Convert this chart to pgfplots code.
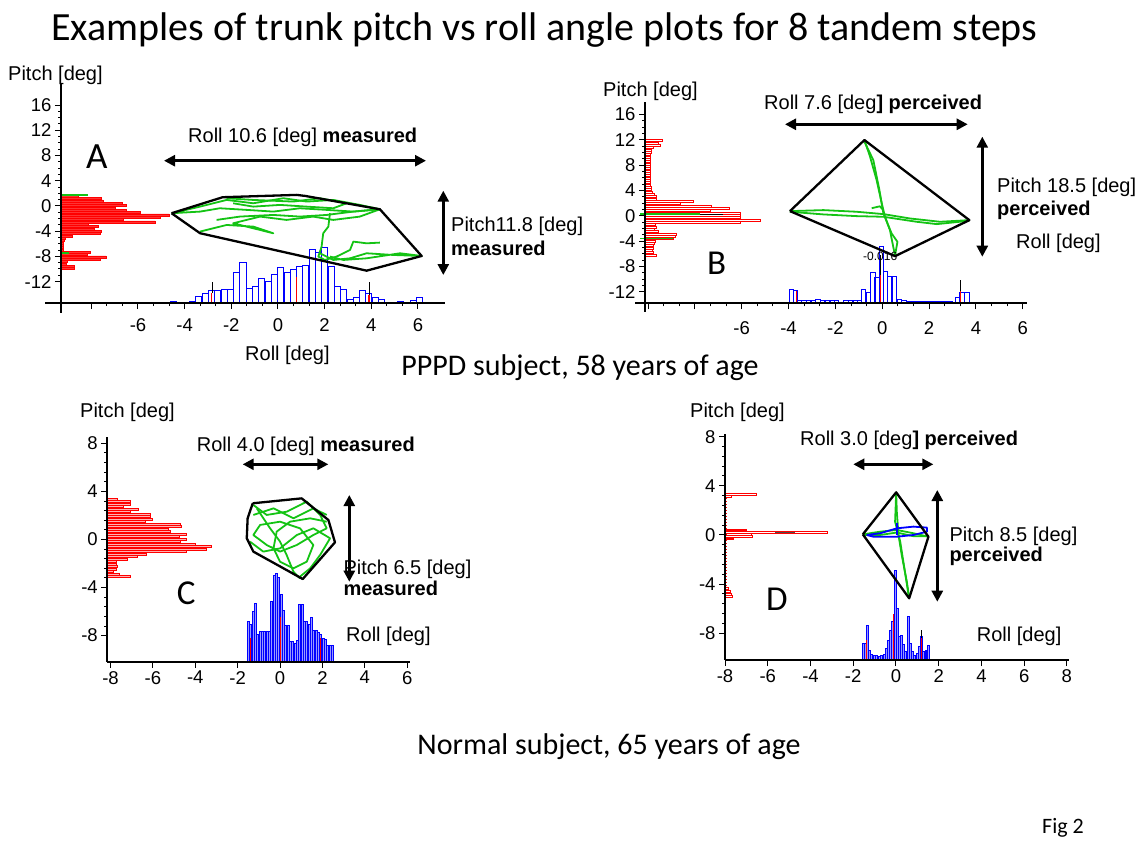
\documentclass[border=0pt]{standalone}
\usepackage{pgfplots}
\pgfplotsset{compat=1.18}
\usepackage{fontspec}
\setmainfont{Liberation Sans}
\newfontfamily\calfont{Carlito}
\usetikzlibrary{arrows.meta}
\definecolor{trgreen}{RGB}{20,195,20}
\newcommand\lab{\fontsize{20}{23}\selectfont}
\newcommand\tlab{\fontsize{18.5}{21}\selectfont}
\pgfplotsset{
  panel/.style={scale only axis, anchor=south west, axis lines=left,
    axis line style={-, line width=2pt, black},
    tick style={black, line width=1pt},
    major tick length=6pt, minor tick length=3pt,
    tick align=outside, tick pos=left,
    ticklabel style={font=\tlab},
    /pgf/number format/assume math mode=true,
    clip=false},
  hist/.style={scale only axis, anchor=south west, hide axis, clip=false},
  tr/.style={trgreen, line width=1.8pt, line join=round, no markers},
  hull/.style={black, line width=2.3pt, line join=round, no markers},
}
\tikzset{darr/.style={{Triangle[length=11pt,width=11pt]}-{Triangle[length=11pt,width=11pt]}, line width=2.6pt},
  lt/.style={anchor=base west, inner sep=0pt, font=\lab}}
\begin{document}
\begin{tikzpicture}
\path[use as bounding box] (0pt,0pt) rectangle (1142pt,-846pt);

% ================= Panel A =================
\begin{axis}[hist, at={(61pt,-303pt)}, width=384pt, height=220pt, xmin=0, xmax=384, ymin=-15.4, ymax=19.5]
\addplot[xbar, bar width=0.33, draw=red, fill=red!80!white, line width=0.5pt] coordinates {
(17,1.53)(40,1.16)(42,0.79)(61,0.42)(65,0.05)(54,-0.32)(65,-0.69)(79,-1.06)(108,-1.43)(99,-1.80)(62,-2.17)(94,-2.54)(27,-2.91)(37,-3.28)(33,-3.65)(40,-4.02)(39,-4.39)(11,-4.76)(4,-5.13)(3,-5.50)(2.3,-5.87)(2.3,-6.24)(2.3,-6.61)(2.3,-6.98)(29,-7.35)(26,-7.72)(45,-8.09)(39,-8.46)(6,-8.83)(5,-9.20)(13,-9.57)(13,-9.94)};
\addplot[trgreen, line width=1.5pt] coordinates {(0,1.7)(27,1.7)};
\addplot[trgreen, line width=1.5pt] coordinates {(0,-7.5)(8,-7.5)};
\end{axis}
\begin{axis}[hist, at={(61pt,-303pt)}, width=384pt, height=220pt, xmin=-9.3, xmax=7.16, ymin=0, ymax=220]
\addplot[ybar, bar width=0.26, draw=blue, fill=white, line width=1pt] coordinates {
(-4.47,1.3)(-4.20,0.8)(-3.93,0.8)(-3.66,1.5)(-3.39,7)(-3.12,9.7)(-2.85,12.3)(-2.58,13)(-2.31,13.7)(-2.04,13.7)(-1.77,30.7)(-1.50,40.3)(-1.23,14.7)(-0.96,17)(-0.69,24.7)(-0.42,21.3)(-0.15,29)(0.12,35.7)(0.39,30.3)(0.66,33.7)(0.93,36.3)(1.20,37.3)(1.47,53.7)(1.74,50.3)(2.01,55.3)(2.28,37)(2.55,16.3)(2.82,13.7)(3.09,3.7)(3.36,5.3)(3.63,13)(3.90,9.7)(4.17,5.3)(4.44,3.7)(4.71,1)(4.98,1)(5.25,1.3)(5.52,1)(5.79,3)(6.06,5.3)};
\addplot[red, line width=1.2pt] coordinates {(0.8,0)(0.8,26)};
\addplot[red, line width=1.5pt] coordinates {(-2.85,0)(-2.85,10)};
\addplot[red, line width=1.5pt] coordinates {(3.9,0)(3.9,8)};
\addplot[black, line width=0.8pt] coordinates {(-2.8,10)(-2.8,21)};
\addplot[black, line width=0.8pt] coordinates {(3.9,8)(3.9,21)};
\end{axis}
\begin{axis}[panel, at={(61pt,-303pt)}, width=384pt, height=220pt, xmin=-9.3, xmax=7.16, ymin=-15.4, ymax=19.5,
  xtick={-8,-6,...,6}, xticklabels={,-6,-4,-2,0,2,4,6}, xticklabel style={yshift=-6pt}, ytick={-12,-8,...,16}, minor x tick num=2, minor y tick num=3]
\addplot[tr] coordinates {(-4.56,-1.16)(-3.34,-0.11)(-2.20,0.95)(-1.06,0.42)(0.23,1.22)(1.23,0.69)(2.37,0.95)(3.51,0.16)(4.37,-0.53)(3.23,-0.90)(2.09,-0.63)(0.94,-0.37)(-0.20,-0.90)(-1.34,-0.63)(-2.49,-0.37)(-3.34,-0.90)(-4.56,-1.16)};
\addplot[tr] coordinates {(-3.34,-4.07)(-2.20,-3.02)(-1.06,-3.28)(-0.20,-4.34)(-0.77,-3.81)(-1.92,-2.75)(-0.77,-1.69)(0.37,-2.22)(1.51,-1.69)(2.37,-2.22)(3.51,-1.69)(4.37,-0.53)};
\addplot[tr] coordinates {(2.23,-1.16)(2.16,-3.28)(1.94,-4.34)(1.87,-6.45)(1.73,-8.04)(2.01,-8.57)(2.51,-8.04)(3.09,-6.98)(3.23,-5.66)(3.80,-5.93)(4.37,-5.82)};
\addplot[tr] coordinates {(1.80,-7.51)(2.37,-8.57)(3.09,-8.31)(3.80,-7.51)(4.94,-7.78)(6.16,-7.94)(5.23,-7.51)(3.80,-8.31)(2.80,-8.57)(2.23,-8.04)};
\addplot[tr] coordinates {(-2.63,-2.22)(-1.63,-1.69)(-0.20,-1.43)(0.94,-1.69)(2.09,-1.43)(3.23,-0.90)(4.37,-0.53)};
\addplot[tr] coordinates {(-2.20,1.22)(-1.06,0.95)(0.66,0.69)(1.80,1.22)(2.94,0.42)(2.37,-0.37)(1.23,-0.11)(0.09,0.16)(-1.06,-0.11)(-1.92,0.42)};
\addplot[hull] coordinates {(-4.56,-1.16)(-2.37,1.38)(0.80,1.75)(1.16,1.59)(4.37,-0.53)(6.16,-7.94)(3.80,-10.27)(-3.34,-4.33)(-4.56,-1.16)};
\end{axis}
\draw[line width=2pt] (45pt,-303pt) -- (61pt,-303pt);
\draw[line width=2pt] (61pt,-303pt) -- (61pt,-313pt);
\node[lt] at (8pt,-80.7pt) {Pitch [deg]};
\node[lt] at (245pt,-360pt) {Roll [deg]};
\node[lt] at (188pt,-142.7pt) {Roll 10.6 [deg] \textbf{measured}};
\node[lt] at (451pt,-231pt) {Pitch11.8 [deg]};
\node[lt] at (451pt,-255pt) {\textbf{measured}};
\node[anchor=base west, inner sep=0pt, font=\calfont\fontsize{37}{40}\selectfont] at (86pt,-168.3pt) {A};
\draw[darr] (164pt,-160.7pt) -- (426pt,-160.7pt);
\draw[darr] (443.3pt,-190.7pt) -- (443.3pt,-275pt);

% ================= Panel B =================
\begin{axis}[hist, at={(645pt,-303.3pt)}, width=381.7pt, height=201.6pt, xmin=0, xmax=381.7, ymin=-13.8, ymax=18.0]
\addplot[xbar, bar width=0.32, draw=red, fill=white, line width=1pt] coordinates {
(17.7,11.85)(13.3,11.48)(15.7,11.11)(8.3,10.74)(6.7,10.37)(6,10.00)(5.7,9.63)(5,9.27)(5.7,8.90)(5,8.53)(5.3,8.16)(5,7.79)(5.7,7.43)(5,7.06)(5.3,6.69)(5,6.32)(5.7,5.95)(5,5.58)(5.7,5.22)(5.3,4.85)(6.7,4.48)(6.3,4.11)(7,3.74)(9,3.37)(11.7,3.01)(11,2.64)(48.3,2.27)(35,1.90)(66.7,1.53)(84.3,1.16)(65,0.80)(95.7,0.43)(95.7,0.06)(95.7,-0.31)(115.7,-0.68)(95.7,-1.05)(10,-1.41)(11.7,-1.78)(9,-2.15)(13.3,-2.52)(31.7,-2.89)(30,-3.26)(28.3,-3.62)(10.3,-3.99)(9,-4.36)(8.3,-4.73)(8.3,-5.10)(7.7,-5.47)(8.3,-5.83)(11.7,-6.20)};
\addplot[trgreen, line width=1.5pt] coordinates {(-5,0.27)(55,0.27)};
\addplot[black, line width=1pt] coordinates {(55,0.27)(78,0.27)};
\addplot[trgreen, line width=1.5pt] coordinates {(-5,-3.6)(28,-3.6)};
\end{axis}
\begin{axis}[hist, at={(645pt,-303.3pt)}, width=381.7pt, height=201.6pt, xmin=-10.13, xmax=6.17, ymin=0, ymax=201.6]
\addplot[ybar, bar width=0.18, draw=blue, fill=white, line width=1pt] coordinates {
(-3.89,14)(-3.71,12.7)(-3.54,3)(-3.34,3)(-3.14,3)(-2.94,3)(-2.74,4)(-2.54,3)(-2.34,3)(-2.14,3)(-1.94,3)(-1.74,1)(-1.55,3.3)(-1.35,3.3)(-1.15,3.3)(-0.97,3.3)(-0.79,14)(-0.59,10.7)(-0.39,30.7)(-0.22,26)(-0.04,56.7)(0.15,31.7)(0.32,26.7)(0.52,26.7)(0.73,4)(0.93,2.7)(1.13,1.7)(1.33,1.7)(1.53,1.7)(1.73,1.7)(1.93,1.7)(2.13,1.7)(2.33,1.7)(2.53,1.7)(2.73,1.7)(2.93,1.7)(3.20,5.7)(3.41,10.7)(3.62,10.7)};
\addplot[red, line width=1.3pt] coordinates {(-0.06,0)(-0.06,28)};
\addplot[red, line width=1.3pt] coordinates {(-3.65,0)(-3.65,12)};
\addplot[red, line width=1.3pt] coordinates {(3.35,0)(3.35,12)};
\addplot[black, line width=0.8pt] coordinates {(3.35,12)(3.35,23)};
\addplot[black, line width=0.8pt] coordinates {(-0.06,28)(-0.06,48)};
\end{axis}
\begin{axis}[panel, at={(645pt,-303.3pt)}, width=381.7pt, height=201.6pt, xmin=-10.13, xmax=6.17, ymin=-13.8, ymax=18.0,
  xtick={-10,-8,...,6}, xticklabels={,,-6,-4,-2,0,2,4,6}, xticklabel style={yshift=-9pt}, ytick={-12,-8,...,16}, minor x tick num=2, minor y tick num=3]
\addplot[tr] coordinates {(-3.94,0.74)(-2.51,0.90)(-1.09,0.64)(0.05,0.27)(1.19,-0.42)(2.47,-0.94)(3.72,-0.68)};
\addplot[tr] coordinates {(-3.94,0.64)(-2.51,0.22)(-1.09,-0.05)(0.05,-0.15)(1.47,-0.94)(2.33,-1.31)(3.72,-0.78)};
\addplot[tr] coordinates {(-0.76,11.95)(-0.52,9.32)(-0.24,5.64)(-0.02,1.95)(0.12,-0.15)(0.33,-2.26)(0.55,-6.36)};
\addplot[tr] coordinates {(-0.76,11.69)(-0.38,8.79)(-0.12,4.06)(0.05,0.37)(0.40,-2.78)(0.65,-4.10)(0.55,-6.20)};
\addplot[tr] coordinates {(-0.45,1.2)(-0.1,1.5)(0.05,0.9)};
\addplot[hull] coordinates {(-3.94,0.74)(-0.76,11.95)(3.72,-0.68)(0.55,-6.36)(-3.94,0.74)};
\end{axis}
\draw[line width=2pt] (635pt,-303.3pt) -- (645pt,-303.3pt);
\draw[line width=2pt] (645pt,-303.3pt) -- (645pt,-311.7pt);
\node[lt] at (603pt,-96pt) {Pitch [deg]};
\node[lt] at (764pt,-109.3pt) {Roll 7.6 [deg\textbf{] perceived}};
\node[lt] at (997pt,-192pt) {Pitch 18.5 [deg]};
\node[lt] at (997pt,-215pt) {\textbf{perceived}};
\node[lt] at (1016pt,-248pt) {Roll [deg]};
\node[anchor=base west, inner sep=0pt, font=\fontsize{12}{14}\selectfont] at (863pt,-260.7pt) {-0.016};
\node[anchor=base west, inner sep=0pt, font=\calfont\fontsize{35}{40}\selectfont] at (707pt,-274pt) {B};
\draw[darr] (785pt,-124.3pt) -- (967.7pt,-124.3pt);
\draw[darr] (982.3pt,-136.7pt) -- (982.3pt,-256.7pt);

% ================= Panel C =================
\begin{axis}[hist, at={(107.3pt,-661.7pt)}, width=302.7pt, height=225pt, xmin=0, xmax=302.7, ymin=-10.17, ymax=8.55]
\addplot[xbar, bar width=0.17, draw=red, fill=red!30!white, line width=0.9pt] coordinates {
(10,3.34)(22.7,3.15)(23.3,2.92)(16,2.73)(31,2.51)(23.3,2.31)(42.7,2.09)(43.3,1.90)(45.3,1.68)(37.7,1.48)(72.7,1.26)(74.3,1.07)(61,0.84)(62.7,0.65)(78.7,0.43)(72,0.23)(79.3,0.01)(72.7,-0.18)(87.7,-0.40)(104.3,-0.60)(98.7,-0.82)(78.7,-1.01)(39.3,-1.24)(30,-1.43)(20,-1.65)(9.3,-1.85)(8.7,-2.07)(10,-2.26)(8.7,-2.48)(6,-2.68)(12,-2.90)(22.7,-3.09)};
\end{axis}
\begin{axis}[hist, at={(107.3pt,-661.7pt)}, width=302.7pt, height=225pt, xmin=-8.15, xmax=6.13, ymin=0, ymax=225]
\addplot[ybar, bar width=0.095, draw=blue, fill=blue!40!white, line width=0.9pt] coordinates {
(-1.49,40.7)(-1.38,37.3)(-1.27,50.7)(-1.16,58.3)(-1.05,27.3)(-0.94,30.7)(-0.83,30.7)(-0.72,30.7)(-0.61,30.7)(-0.50,30.7)(-0.39,60)(-0.28,86.7)(-0.17,88.3)(-0.06,84)(0.05,67.3)(0.16,51.7)(0.27,36.7)(0.38,36.7)(0.49,20)(0.60,20.7)(0.71,18.3)(0.82,21.7)(0.93,57.3)(1.04,57.3)(1.15,40.7)(1.26,40)(1.37,37.3)(1.48,44)(1.59,31.7)(1.70,31.7)(1.81,29.3)(1.92,27.3)(2.03,23.3)(2.14,22.3)(2.25,16)(2.36,16)(2.47,16)};
\addplot[red, line width=1pt] coordinates {(-1.38,0)(-1.38,24)};
\addplot[red, line width=1pt] coordinates {(0.0,0)(0.0,45)};
\addplot[red, line width=1pt] coordinates {(1.9,0)(1.9,24)};
\end{axis}
\begin{axis}[panel, at={(107.3pt,-661.7pt)}, width=302.7pt, height=225pt, xmin=-8.15, xmax=6.13, ymin=-10.17, ymax=8.55,
  xtick={-8,-6,...,6}, ytick={-8,-4,0,4,8}, minor y tick num=4]
\addplot[tr] coordinates {(-1.26,2.87)(-0.63,2.04)(0.31,2.31)(1.26,3.15)(1.89,2.04)(2.20,0.93)(1.57,0.37)(0.79,-0.46)(0.00,-1.01)(-0.63,-0.46)(-1.26,0.37)(-0.94,1.21)(0.00,1.48)(0.94,0.93)(1.57,-0.46)(1.26,-1.85)(0.63,-2.40)(0.00,-1.85)(-0.31,-0.74)(-0.16,0.65)(0.47,1.48)(1.42,1.76)(2.20,1.48)};
\addplot[tr] coordinates {(-1.42,-0.18)(-0.79,-1.01)(0.00,-0.74)(0.79,0.37)(1.57,0.93)(2.36,0.10)(1.89,-1.29)(1.42,-2.40)(0.94,-3.09)};
\addplot[tr] coordinates {(-1.10,2.59)(-0.47,0.93)(0.00,-0.18)(0.31,-1.29)(0.63,-2.68)(0.94,-3.23)};
\addplot[tr] coordinates {(-1.26,2.04)(-0.31,2.59)(0.63,1.76)(1.57,2.59)(2.20,2.04)};
\addplot[hull] coordinates {(-1.29,3.01)(1.02,3.42)(2.28,1.62)(2.59,-0.24)(1.07,-3.29)(-1.26,-1.01)(-1.57,0.10)(-1.53,1.76)(-1.29,3.01)};
\end{axis}
\node[lt] at (80pt,-417.7pt) {Pitch [deg]};
\node[lt] at (196.7pt,-451pt) {Roll 4.0 [deg] \textbf{measured}};
\node[lt] at (343.3pt,-574.3pt) {Pitch 6.5 [deg]};
\node[lt] at (343.3pt,-595pt) {\textbf{measured}};
\node[lt] at (346pt,-641pt) {Roll [deg]};
\node[anchor=base west, inner sep=0pt, font=\calfont\fontsize{35}{40}\selectfont] at (176.7pt,-604.3pt) {C};
\draw[darr] (242.7pt,-464.3pt) -- (328.3pt,-464.3pt);
\draw[darr] (349.3pt,-495pt) -- (349.3pt,-581.7pt);

% ================= Panel D =================
\begin{axis}[hist, at={(725pt,-660pt)}, width=344pt, height=225.7pt, xmin=0, xmax=344, ymin=-10.17, ymax=8.19]
\addplot[xbar, bar width=0.15, draw=red, fill=white, line width=1pt] coordinates {
(31.7,3.31)(6.7,3.12)(21.7,0.41)(102.3,0.22)(26.7,0.05)(27.7,-0.14)(8.3,-0.33)(3,-4.34)(5,-4.61)(6,-4.83)(7.7,-4.99)};
\addplot[red, line width=1pt, dotted] coordinates {(1.5,3.0)(1.5,-4.3)};
\addplot[black!70, line width=1.5pt] coordinates {(50,0.22)(70,0.22)};
\end{axis}
\begin{axis}[hist, at={(725pt,-660pt)}, width=344pt, height=225.7pt, xmin=-8, xmax=8.1, ymin=0, ymax=225.7]
\addplot[ybar, bar width=0.085, draw=blue, fill=blue!40!white, line width=1pt] coordinates {
(-1.52,16.7)(-1.43,16.7)(-1.33,35)(-1.24,10)(-1.13,5.7)(-1.02,5)(-0.90,4.3)(-0.77,3.3)(-0.66,4.3)(-0.55,5.7)(-0.46,11.7)(-0.35,20)(-0.24,30)(-0.15,38.3)(-0.04,90)(0.06,51.7)(0.15,23.3)(0.26,25)(0.35,15.7)(0.46,8.3)(0.57,43.3)(0.67,16.7)(0.77,8.3)(0.88,5)(0.99,6.7)(1.10,13.3)(1.20,23.3)(1.30,8.3)(1.41,10)(1.52,14.3)};
\addplot[red, line width=1pt] coordinates {(-1.40,0)(-1.40,20)};
\addplot[red, line width=1pt] coordinates {(-0.10,0)(-0.10,46)};
\addplot[red, line width=1pt] coordinates {(1.20,0)(1.20,22)};
\addplot[black, line width=0.8pt] coordinates {(1.20,22)(1.20,30)};
\end{axis}
\begin{axis}[panel, at={(725pt,-660pt)}, width=344pt, height=225.7pt, xmin=-8, xmax=8.1, ymin=-10.17, ymax=8.19,
  xtick={-8,-6,...,8}, ytick={-8,-4,0,4,8}, minor y tick num=4]
\addplot[tr] coordinates {(0.01,3.47)(0.04,1.90)(0.12,0.00)(0.27,-1.63)(0.51,-3.80)(0.62,-5.10)};
\addplot[tr] coordinates {(0.01,3.40)(-0.04,1.08)(0.20,-0.54)(0.59,-4.88)};
\addplot[tr] coordinates {(-1.55,0.05)(-0.74,0.27)(0.04,0.41)(0.82,0.14)(1.52,-0.14)};
\addplot[tr] coordinates {(-1.55,0.0)(-0.74,0.0)(0.04,0.2)(0.82,-0.1)(1.45,-0.1)};
\addplot[blue, line width=1.8pt, line join=round] coordinates {(-1.37,0.00)(-0.74,0.14)(0.04,0.54)(0.82,0.68)(1.45,0.60)(1.45,0.27)(0.82,0.00)(0.04,-0.14)(-1.05,-0.14)(-1.37,0.0)};
\addplot[blue, line width=1.8pt] coordinates {(0.04,1.0)(0.04,0.0)};
\addplot[hull] coordinates {(-1.55,0.05)(0.01,3.47)(1.52,-0.14)(0.62,-5.15)(-1.55,0.05)};
\end{axis}
\node[lt] at (690pt,-417.7pt) {Pitch [deg]};
\node[lt] at (800pt,-445pt) {Roll 3.0 [deg\textbf{] perceived}};
\node[lt] at (949.3pt,-541pt) {Pitch 8.5 [deg]};
\node[lt] at (949.3pt,-561.7pt) {\textbf{perceived}};
\node[lt] at (976.7pt,-641pt) {Roll [deg]};
\node[anchor=base west, inner sep=0pt, font=\calfont\fontsize{35}{40}\selectfont] at (766pt,-610pt) {D};
\draw[darr] (853.3pt,-464.3pt) -- (933.3pt,-464.3pt);
\draw[darr] (937.3pt,-490pt) -- (937.3pt,-601.7pt);

% ================= Texts =================
\node[anchor=base, inner sep=0pt, font=\calfont\fontsize{40}{44}\selectfont] at (544.5pt,-40pt) {Examples of trunk pitch vs roll angle plots for 8 tandem steps};
\node[anchor=base, inner sep=0pt, font=\calfont\fontsize{30}{34}\selectfont] at (580pt,-375pt) {PPPD subject, 58 years of age};
\node[anchor=base, inner sep=0pt, font=\calfont\fontsize{30}{34}\selectfont] at (609pt,-754pt) {Normal subject, 65 years of age};
\node[anchor=base west, inner sep=0pt, font=\calfont\fontsize{22}{24}\selectfont] at (1042pt,-833pt) {Fig 2};
\end{tikzpicture}
\end{document}
